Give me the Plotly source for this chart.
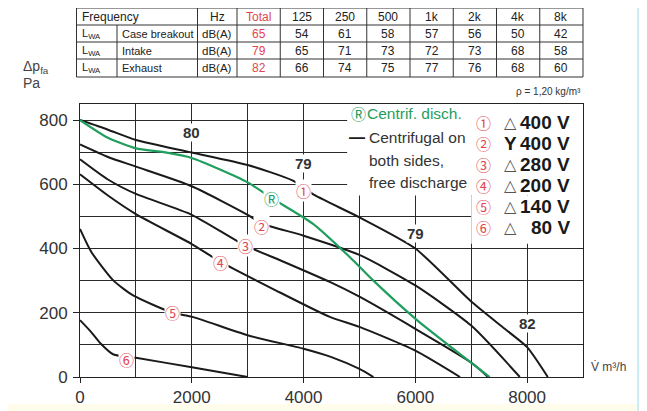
import plotly.graph_objects as go

# ---------------- data ----------------
# sound table
freq_bands = ["125", "250", "500", "1k", "2k", "4k", "8k"]
row_names = ["Case breakout", "Intake", "Exhaust"]
row_totals = [65, 79, 82]
case_breakout = [54, 61, 58, 57, 56, 50, 42]
intake = [65, 71, 73, 72, 73, 68, 58]
exhaust = [66, 74, 75, 77, 76, 68, 60]

# fan curves (V m3/h, dp Pa)
c1_x = [0, 500, 1000, 2000, 3000, 3800, 4200, 5000, 6000, 7000, 7600, 8000, 8370]
c1_y = [800, 770, 738, 699, 660, 612, 566, 497, 400, 235, 150, 93, 0]
c2_x = [0, 500, 1000, 2000, 3000, 3250, 4000, 5000, 6000, 7000, 7870]
c2_y = [724, 685, 655, 594, 505, 478, 440, 380, 285, 160, 0]
c3_x = [0, 500, 1000, 2000, 2950, 3600, 4470, 5000, 6000, 7000, 7300]
c3_y = [678, 615, 570, 505, 410, 362, 296, 250, 150, 45, 0]
c4_x = [0, 500, 1000, 2000, 2500, 3500, 4470, 5000, 6000, 6800]
c4_y = [631, 565, 507, 414, 360, 270, 187, 156, 82, 0]
c5_x = [0, 200, 600, 950, 1660, 2000, 3000, 4000, 4500, 5000, 5250]
c5_y = [461, 390, 300, 254, 200, 188, 130, 88, 62, 25, 0]
c6_x = [0, 200, 360, 600, 1000, 2000, 3000]
c6_y = [177, 140, 106, 70, 60, 30, 0]
g_x = [0, 500, 1000, 1500, 2000, 3000, 3430, 4170, 4830, 5250, 6030, 7330]
g_y = [800, 745, 712, 700, 682, 606, 557, 477, 373, 300, 177, 0]

curve_labels = ["①", "②", "③", "④", "⑤", "⑥"]
curve_label_x = [3996, 3251, 2953, 2505, 1660, 840]
curve_label_y = [580, 468, 409, 355, 200, 53]
r_label_x, r_label_y = 3430, 557

noise_x = [2000, 4000, 6000, 8000]
noise_y = [760, 664, 447, 167]
noise_text = ["80", "79", "79", "82"]

conn_symbols = ["△", "Y", "△", "△", "△", "△"]
voltages = ["400 V", "400 V", "280 V", "200 V", "140 V", "80 V"]

x_ticks = [0, 2000, 4000, 6000, 8000]
y_ticks = [0, 200, 400, 600, 800]

# ---------------- figure ----------------
W, H = 647, 411
OFF = 8                       # page body margin of the html page
L, R, T, B = 80, 583, 104, 377  # plot area in page pixels


def px(x):
    return (x - L) / (R - L)


def py(y):
    return (B - y) / (B - T)


BASE = "Liberation Sans, Arial, sans-serif"
CIRC = "Noto Sans CJK JP, DejaVu Sans, sans-serif"
BLACK = "#1a1a1a"
GREEN = "#1f9e5e"
RED = "#e2454f"

fig = go.Figure()
for xs, ys in [(c1_x, c1_y), (c2_x, c2_y), (c3_x, c3_y), (c4_x, c4_y),
               (c5_x, c5_y), (c6_x, c6_y)]:
    fig.add_trace(go.Scatter(x=xs, y=ys, mode="lines",
                             line=dict(color=BLACK, width=2, shape="spline", smoothing=0.6),
                             hoverinfo="skip", showlegend=False))
fig.add_trace(go.Scatter(x=g_x, y=g_y, mode="lines",
                         line=dict(color=GREEN, width=2.2, shape="spline", smoothing=0.6),
                         hoverinfo="skip", showlegend=False))

ann = []


def A(**kw):
    kw.setdefault("showarrow", False)
    kw.setdefault("xanchor", "center")
    kw.setdefault("yanchor", "middle")
    ann.append(kw)


# noise level labels
for x, y, t in zip(noise_x, noise_y, noise_text):
    A(x=x, y=y, xref="x", yref="y", text="<b>%s</b>" % t,
      font=dict(family=BASE, size=15, color="#333"), bgcolor="white", borderpad=0)
# curve labels
for x, y, t in zip(curve_label_x, curve_label_y, curve_labels):
    A(x=x, y=y, xref="x", yref="y", text=t,
      font=dict(family=CIRC, size=15, color=RED), bgcolor="white", borderpad=0)
A(x=r_label_x, y=r_label_y, xref="x", yref="y", text="Ⓡ",
  font=dict(family=CIRC, size=15, color=GREEN), bgcolor="white", borderpad=0)

# left legend text
A(x=px(349), y=py(113), xref="paper", yref="paper", xanchor="left", text="Ⓡ",
  font=dict(family=CIRC, size=15, color=GREEN))
A(x=px(365), y=py(113), xref="paper", yref="paper", xanchor="left", text="Centrif. disch.",
  font=dict(family=BASE, size=15.5, color=GREEN))
A(x=px(347), y=py(137), xref="paper", yref="paper", xanchor="left", text="<b>—</b>",
  font=dict(family=BASE, size=16, color=BLACK))
for yy, t in zip([137, 160, 182], ["Centrifugal on", "both sides,", "free discharge"]):
    A(x=px(367), y=py(yy), xref="paper", yref="paper", xanchor="left", text=t,
      font=dict(family=BASE, size=15.5, color="#333"))

# right legend
row_px = [122, 143, 164, 185, 206, 227]
for i, (yy, sym, v) in enumerate(zip(row_px, conn_symbols, voltages)):
    A(x=px(483), y=py(yy), xref="paper", yref="paper", text=curve_labels[i],
      font=dict(family=CIRC, size=15, color=RED))
    if sym == "Y":
        A(x=px(502), y=py(yy), xref="paper", yref="paper", xanchor="left", text="<b>Y</b>",
          font=dict(family=BASE, size=19, color=BLACK))
    else:
        A(x=px(502), y=py(yy), xref="paper", yref="paper", xanchor="left", text=sym,
          font=dict(family="DejaVu Sans", size=16, color="#555"))
    A(x=px(572), y=py(yy), xref="paper", yref="paper", xanchor="right", text="<b>%s</b>" % v,
      font=dict(family=BASE, size=19, color=BLACK))

# axis captions
A(x=px(21), y=py(67), xref="paper", yref="paper", xanchor="left",
  text="Δp<sub>fa</sub>", font=dict(family=BASE, size=14, color="#444"))
A(x=px(21), y=py(83), xref="paper", yref="paper", xanchor="left",
  text="Pa", font=dict(family=BASE, size=14, color="#444"))
A(x=px(589), y=py(367), xref="paper", yref="paper", xanchor="left",
  text="V\u0307 m³/h", font=dict(family=BASE, size=12, color="#444"))
A(x=px(583), y=py(92), xref="paper", yref="paper", xanchor="right",
  text="ρ = 1,20 kg/m³", font=dict(family=BASE, size=10, color="#333"))

# ---- table ----
col_edges = [76.5, 117, 197.5] + [237 + 43.25 * k for k in range(9)]
row_edges = [8, 25, 42, 59, 77]
shapes = []
tcol = "#333"
for y in row_edges:
    shapes.append(dict(type="line", xref="paper", yref="paper", x0=px(col_edges[0]), x1=px(col_edges[-1]),
                       y0=py(y), y1=py(y), line=dict(color=tcol, width=1)))
for i, x in enumerate(col_edges):
    ytop = row_edges[1] if i == 1 else row_edges[0]
    shapes.append(dict(type="line", xref="paper", yref="paper", x0=px(x), x1=px(x),
                       y0=py(ytop), y1=py(row_edges[-1]), line=dict(color=tcol, width=1)))


def cell_text(ci, ri, text, color="#222", align="center", size=12):
    x0, x1 = col_edges[ci], col_edges[ci + 1]
    yc = (row_edges[ri] + row_edges[ri + 1]) / 2
    if align == "center":
        A(x=px((x0 + x1) / 2), y=py(yc), xref="paper", yref="paper",
          text=text, font=dict(family=BASE, size=size, color=color))
    else:
        A(x=px(x0 + 3), y=py(yc), xref="paper", yref="paper", xanchor="left",
          text=text, font=dict(family=BASE, size=size, color=color))


cell_text(0, 0, "Frequency", align="left")
cell_text(2, 0, "Hz")
cell_text(3, 0, "Total", color=RED)
for k, f in enumerate(freq_bands):
    cell_text(4 + k, 0, f)
for r, (name, tot, vals) in enumerate(zip(row_names, row_totals, [case_breakout, intake, exhaust])):
    cell_text(0, r + 1, "L<sub>WA</sub>", align="left", size=11)
    cell_text(1, r + 1, name, align="left", size=11)
    cell_text(2, r + 1, "dB(A)", size=11.5)
    cell_text(3, r + 1, str(tot), color=RED)
    for k, v in enumerate(vals):
        cell_text(4 + k, r + 1, str(v))

# white boxes behind legends (cover grid)
shapes.append(dict(type="rect", xref="x", yref="y", x0=4780, x1=9000, y0=565, y1=850,
                   fillcolor="white", line=dict(width=0), layer="between"))
shapes.append(dict(type="rect", xref="x", yref="y", x0=7000, x1=9000, y0=415, y1=565,
                   fillcolor="white", line=dict(width=0), layer="between"))
# page frame
shapes.append(dict(type="line", xref="paper", yref="paper", x0=px(6), x1=px(6), y0=py(0), y1=py(411),
                   line=dict(color="#c9eef5", width=2), layer="below"))
shapes.append(dict(type="line", xref="paper", yref="paper", x0=px(638), x1=px(638), y0=py(0), y1=py(411),
                   line=dict(color="#c9eef5", width=2), layer="below"))
shapes.append(dict(type="rect", xref="paper", yref="paper", x0=px(7), x1=px(637), y0=py(411), y1=py(404),
                   fillcolor="#fffcec", line=dict(width=0), layer="below"))

fig.update_layout(
    width=W, height=H,
    margin=dict(l=L - OFF, r=W - R + OFF, t=T - OFF, b=H - B + OFF, pad=0, autoexpand=False),
    paper_bgcolor="white", plot_bgcolor="white",
    showlegend=False,
    annotations=ann, shapes=shapes,
    font=dict(family=BASE, color="#333"),
)
fig.update_xaxes(range=[0, 9000], tickvals=x_ticks, ticks="outside", ticklen=5, tickcolor="#222",
                 automargin=False,
                 showline=True, linecolor="#222", linewidth=1, mirror=True,
                 showgrid=True, gridcolor="#2a2a2a", gridwidth=1,
                 minor=dict(dtick=1000, tick0=0, showgrid=True, gridcolor="#2a2a2a", gridwidth=1),
                 tickfont=dict(family=BASE, size=17, color="#333"), zeroline=False, fixedrange=True)
fig.update_yaxes(range=[0, 850], tickvals=y_ticks, ticks="outside", ticklen=6, tickcolor="#222",
                 ticklabelstandoff=2, automargin=False,
                 showline=True, linecolor="#222", linewidth=1, mirror=True,
                 showgrid=True, gridcolor="#2a2a2a", gridwidth=1,
                 minor=dict(dtick=100, tick0=0, showgrid=True, gridcolor="#2a2a2a", gridwidth=1),
                 tickfont=dict(family=BASE, size=17, color="#333"), zeroline=False, fixedrange=True)

fig.write_html("out.html")
